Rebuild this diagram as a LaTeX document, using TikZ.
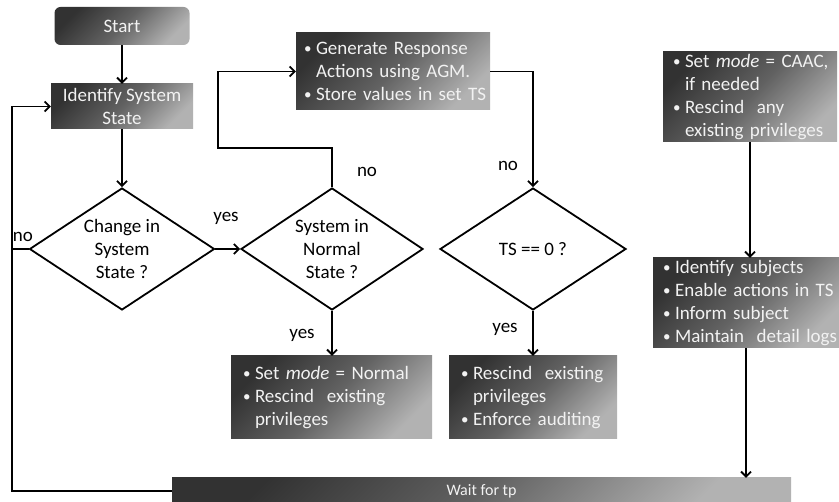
\documentclass[tikz,border=0pt]{standalone}
\usepackage{fontspec}
\setmainfont{Carlito}
\usepackage{tikz}
\usetikzlibrary{shapes.geometric, arrows.meta, positioning, calc}
\definecolor{mydark}{RGB}{0,0,0}
\definecolor{boxdark}{RGB}{50,50,50}
\definecolor{boxmid}{RGB}{98,98,98}
\definecolor{boxlight}{RGB}{178,178,178}
\definecolor{boxtext}{RGB}{242,242,242}
\newcommand{\flowfont}{\fontsize{19}{23}\selectfont}
\newcommand{\bitem}[1]{\noindent\hangindent=12pt\hangafter=1\makebox[12pt][l]{\raisebox{1pt}{\fontsize{15}{23}\selectfont\textbullet}}#1\par}
\tikzset{
  line/.style={draw=mydark, line width=1.8pt},
  arrow/.style={draw=mydark, line width=1.8pt, -{Straight Barb[length=5pt, width=10pt]}},
  gbox/.style={rectangle, top color=boxdark, bottom color=boxlight, middle color=boxmid, shading angle=45, text=boxtext, font=\flowfont, inner sep=0pt, align=center},
  lbox/.style={gbox, align=left, text width=#1},
  decision/.style={diamond, draw=mydark, line width=1.8pt, aspect=1.5, inner sep=0pt, align=center, font=\flowfont},
  lbl/.style={font=\flowfont, inner sep=0pt}
}

\begin{document}
\begin{tikzpicture}[x=1pt, y=-1pt]
  \useasboundingbox (0,0) rectangle (839,502);

  % Left column
  \node [gbox, rounded corners=6pt, minimum width=135pt, minimum height=38pt] (start) at (122,26) {Start};
  \node [gbox, minimum width=142pt, minimum height=45pt] (ident) at (122,106.5) {Identify System\\State};
  \node [decision, minimum width=185pt, minimum height=122pt] (chg) at (122,249) {Change in\\System\\State ?};

  % Middle decisions
  \node [decision, minimum width=182pt, minimum height=122pt] (norm) at (332,249) {System in\\Normal\\State ?};
  \node [decision, minimum width=186pt, minimum height=122pt] (ts) at (533,249) {TS == 0 ?};
  \node [lbox=178pt, minimum width=194pt, minimum height=77pt] (gen) at (393,71.5) {\bitem{\mbox{Generate Response}\newline\mbox{Actions using AGM.}}\bitem{\mbox{Store values in set TS}}};
  \node [lbox=177pt, minimum width=201pt, minimum height=83pt] (setn) at (331.5,397.5) {\bitem{\mbox{Set \textit{mode} = Normal}}\bitem{\mbox{Rescind\ \ existing}\newline privileges}};
  \node [lbox=144pt, minimum width=168pt, minimum height=83pt] (resc) at (533,397.5) {\bitem{\mbox{Rescind\ \ existing}\newline privileges}\bitem{\mbox{Enforce auditing}}};

  % Right column
  \node [lbox=154pt, minimum width=174pt, minimum height=90pt] (caac) at (750,97) {\bitem{\mbox{Set \textit{mode} = CAAC,}\newline\mbox{if needed}}\bitem{\mbox{Rescind\ \ any}\newline\mbox{existing privileges}}};
  \node [lbox=166pt, minimum width=186pt, minimum height=90pt] (ids) at (746,303) {\bitem{\mbox{Identify subjects}}\bitem{\mbox{Enable actions in TS}}\bitem{\mbox{Inform subject}}\bitem{\mbox{Maintain\ \ detail logs}}};
  \node [gbox, font=\fontsize{16}{20}\selectfont, minimum width=619pt, minimum height=26pt] (wait) at (481.5,491) {Wait for tp};

  \coordinate (back) at (12,249);
  \coordinate (loopup) at (218,148);

  \draw [arrow] (start) -- (ident);
  \draw [arrow] (ident) -- (chg);
  \draw [arrow] (chg.east) -- (norm.west);
  \draw [arrow] (norm.south) -- (norm.south |- setn.north);
  \draw [arrow] (ts.south) -- (ts.south |- resc.north);
  \draw [arrow] (norm.north) |- (loopup) |- (gen.west);
  \draw [arrow] (gen.east) -| (ts.north);
  \draw [arrow] (caac.south) -- (caac.south |- ids.north);
  \draw [arrow] (ids.south) -- (ids.south |- wait.north);
  \draw [line] (chg.west) -- (back);
  \draw [arrow] (wait.west) -| (back) |- (ident.west);

  \node [lbl] (yes1) at (226,218) {yes};
  \node [lbl] (no1) at (23,237) {no};
  \node [lbl] (no2) at (367,172) {no};
  \node [lbl] (no3) at (508,166) {no};
  \node [lbl] (yes2) at (302,335) {yes};
  \node [lbl] (yes3) at (505,329) {yes};
\end{tikzpicture}
\end{document}
